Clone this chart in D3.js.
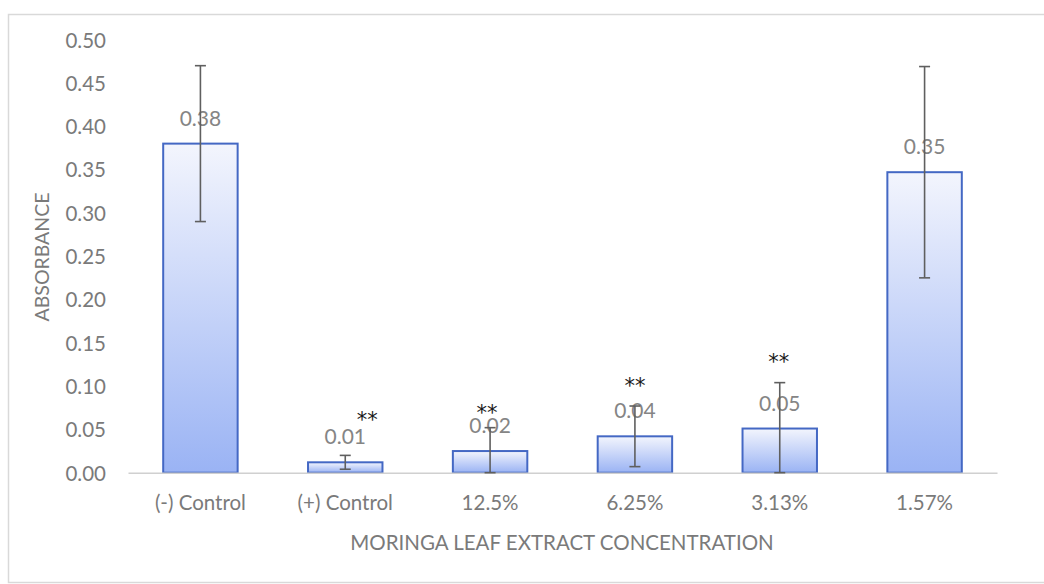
<!DOCTYPE html>
<html><head><meta charset="utf-8">
<script src="https://cdn.jsdelivr.net/npm/d3@7"></script>
<style>body{margin:0;background:#fff;} svg{display:block;}</style>
</head><body>
<svg id="c" width="1044" height="584"></svg>
<script>
const categories = ["(-) Control","(+) Control","12.5%","6.25%","3.13%","1.57%"];
const values = [0.38, 0.012, 0.025, 0.042, 0.051, 0.347];
const errors = [0.09, 0.008, 0.027, 0.035, 0.053, 0.122];
const valueLabels = ["0.38","0.01","0.02","0.04","0.05","0.35"];
const stars = ["", "**", "**", "**", "**", ""];
const starLevels = [null, 0.068, 0.076, 0.107, 0.135, null];
const yTicks = [0,0.05,0.10,0.15,0.20,0.25,0.30,0.35,0.40,0.45,0.50];

const svg = d3.select("#c");
const font = "Lato, 'Open Sans', sans-serif";
const grey = "#7a7a7a";

// chart border
svg.append("rect").attr("x",8.5).attr("y",14.5).attr("width",1060).attr("height",568)
  .attr("fill","#fff").attr("stroke","#d9d9d9").attr("stroke-width",1.5);

const x = d3.scaleBand().domain(categories).range([128,997]).paddingInner(0.486).paddingOuter(0.243);
const y = d3.scaleLinear().domain([0,0.5]).range([472.7,39.7]);

const defs = svg.append("defs");
const grad = defs.append("linearGradient").attr("id","g").attr("x1",0).attr("y1",0).attr("x2",0).attr("y2",1);
grad.append("stop").attr("offset","0%").attr("stop-color","#f3f5fd");
grad.append("stop").attr("offset","100%").attr("stop-color","#9ab3f4");

// y axis labels
const yAxis = d3.axisLeft(y).tickValues(yTicks).tickFormat(d3.format(".2f")).tickSize(0).tickPadding(0);
const ya = svg.append("g").attr("transform","translate(106,0)").call(yAxis);
ya.select(".domain").remove();
ya.selectAll("text").attr("font-family",font).attr("font-size",20.5).attr("fill",grey).attr("dy","0.36em");

// bars
svg.selectAll("rect.bar").data(categories).join("rect").attr("class","bar")
  .attr("x",d=>x(d)).attr("width",x.bandwidth())
  .attr("y",(d,i)=>y(values[i])).attr("height",(d,i)=>y(0)-y(values[i]))
  .attr("fill","url(#g)").attr("stroke","#4468c4").attr("stroke-width",2);

// x axis
const xAxis = d3.axisBottom(x).tickSize(0).tickPadding(23);
const xa = svg.append("g").attr("transform",`translate(0,${y(0)})`).call(xAxis);
xa.select(".domain").attr("stroke","#d0d0d0").attr("stroke-width",1.5);
xa.selectAll("text").attr("font-family",font).attr("font-size",20.5).attr("fill",grey);

// value labels
svg.selectAll("text.vl").data(categories).join("text").attr("class","vl")
  .attr("x",d=>x(d)+x.bandwidth()/2).attr("y",(d,i)=>y(values[i])-18)
  .attr("text-anchor","middle").attr("font-family",font).attr("font-size",21).attr("fill","#858585")
  .text((d,i)=>valueLabels[i]);

// error bars
const eb = svg.selectAll("g.eb").data(categories).join("g").attr("class","eb")
  .attr("stroke","#5f5f5f").attr("stroke-width",1.6);
eb.append("line").attr("x1",d=>x(d)+x.bandwidth()/2).attr("x2",d=>x(d)+x.bandwidth()/2)
  .attr("y1",(d,i)=>y(values[i]+errors[i])).attr("y2",(d,i)=>y(Math.max(0,values[i]-errors[i])));
eb.append("line").attr("x1",d=>x(d)+x.bandwidth()/2-5.5).attr("x2",d=>x(d)+x.bandwidth()/2+5.5)
  .attr("y1",(d,i)=>y(values[i]+errors[i])).attr("y2",(d,i)=>y(values[i]+errors[i]));
eb.append("line").attr("x1",d=>x(d)+x.bandwidth()/2-5.5).attr("x2",d=>x(d)+x.bandwidth()/2+5.5)
  .attr("y1",(d,i)=>y(Math.max(0,values[i]-errors[i]))).attr("y2",(d,i)=>y(Math.max(0,values[i]-errors[i])));

// significance stars
const starOffsets = [0, 22, -3, 0, -1, 0];
svg.selectAll("text.st").data(categories.filter((d,i)=>stars[i])).join("text").attr("class","st")
  .attr("x",d=>x(d)+x.bandwidth()/2+starOffsets[categories.indexOf(d)])
  .attr("y",d=>y(starLevels[categories.indexOf(d)])+13)
  .attr("text-anchor","middle").attr("font-family","'DejaVu Sans', sans-serif").attr("font-size",21)
  .attr("fill","#1a1a1a").text(d=>stars[categories.indexOf(d)]);

// axis titles
svg.append("text").attr("x",562).attr("y",550).attr("text-anchor","middle")
  .attr("font-family",font).attr("font-size",20.5).attr("fill",grey).text("MORINGA LEAF EXTRACT CONCENTRATION");
svg.append("text").attr("transform","translate(49,257) rotate(-90)").attr("text-anchor","middle")
  .attr("font-family",font).attr("font-size",19.5).attr("fill",grey).text("ABSORBANCE");
</script>
</body></html>
